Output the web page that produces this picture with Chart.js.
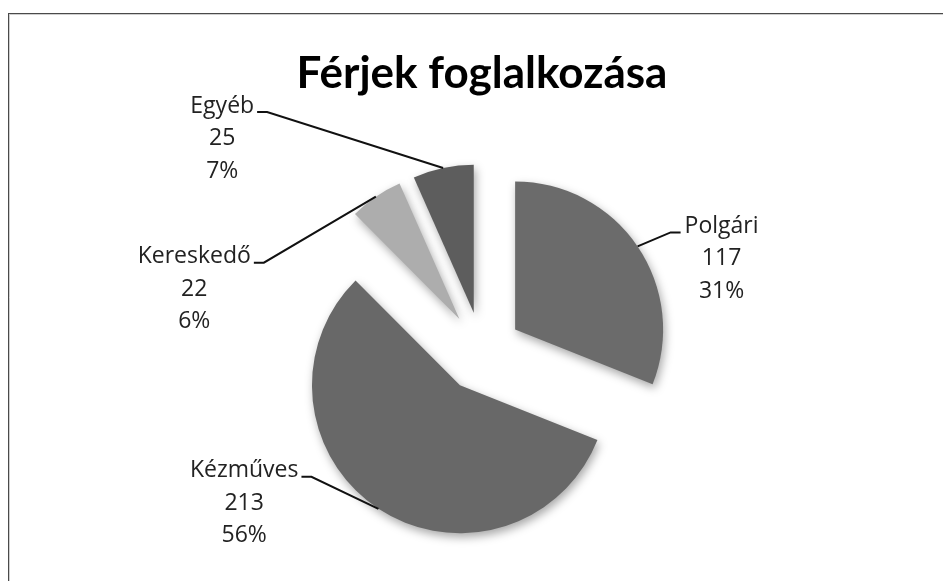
<!DOCTYPE html>
<html>
<head>
<meta charset="utf-8">
<script src="https://cdn.jsdelivr.net/npm/chart.js@4.4.1/dist/chart.umd.min.js"></script>
<style>
  html, body { margin: 0; padding: 0; background: #fff; }
  canvas { display: block; }
</style>
</head>
<body>
<canvas id="c" width="943" height="581"></canvas>
<script>
// ---- data ----
const title = 'Férjek foglalkozása';
const categories = ['Polgári', 'Kézműves', 'Kereskedő', 'Egyéb'];
const values = [117, 213, 22, 25];

const total = values.reduce((a, b) => a + b, 0);
const EXPLODE = 40; // px each slice is pulled out from the centre

// ---- styles ----
const baseColors = ['#6b6b6b', '#686868', '#adadad', '#5d5d5d'];
const edgeColors = ['#8e8e8e', '#8a8a8a', '#d4d4d4', '#7c7c7c'];
const darkEdge   = ['#4e4e4e', '#4c4c4c', '#8a8a8a', '#444444'];
// label elbow offsets relative to the slice edge anchor, and side of text
const labelLayout = [
  { dx: 33,   dy: -14, side: 'right' },
  { dx: -67,  dy: -32, side: 'left' },
  { dx: -112, dy: 66,  side: 'left' },
  { dx: -176, dy: -56, side: 'left' }
];

function sliceFill(ctx) {
  const arc = ctx.element;
  const i = ctx.dataIndex;
  if (!arc || !isFinite(arc.x) || !arc.outerRadius) return baseColors[i];
  const c = ctx.chart.ctx;
  const g = c.createRadialGradient(arc.x, arc.y, 0, arc.x, arc.y, arc.outerRadius);
  g.addColorStop(0, baseColors[i]);
  g.addColorStop(0.9, baseColors[i]);
  g.addColorStop(0.955, edgeColors[i]);
  g.addColorStop(1, darkEdge[i]);
  return g;
}

const framePlugin = {
  id: 'frame',
  beforeDraw(chart) {
    const c = chart.ctx;
    c.save();
    c.fillStyle = '#fff';
    c.fillRect(0, 0, chart.width, chart.height);
    c.strokeStyle = '#4a4a4a';
    c.lineWidth = 1;
    c.strokeRect(8.5, 13.5, 2000, 2000);
    c.strokeStyle = '#cfcfcf';
    c.beginPath();
    c.moveTo(9, 14.5); c.lineTo(chart.width, 14.5);
    c.moveTo(9.5, 14); c.lineTo(9.5, chart.height);
    c.stroke();
    c.restore();
  }
};

// draw each arc element (library drawing) translated outward along its mid-angle
const explodePlugin = {
  id: 'explode',
  beforeDatasetDraw(chart, args) {
    const c = chart.ctx;
    const meta = args.meta;
    c.save();
    c.shadowColor = 'rgba(0,0,0,0.35)';
    c.shadowBlur = 10;
    c.shadowOffsetX = 2;
    c.shadowOffsetY = 4;
    meta.data.forEach((arc) => {
      const mid = (arc.startAngle + arc.endAngle) / 2;
      c.save();
      c.translate(Math.cos(mid) * EXPLODE, Math.sin(mid) * EXPLODE);
      arc.draw(c, chart.chartArea);
      c.restore();
    });
    c.restore();
    return false;
  }
};

const labelPlugin = {
  id: 'pieLabels',
  afterDatasetsDraw(chart) {
    const c = chart.ctx;
    const meta = chart.getDatasetMeta(0);
    const lineH = 32.5;
    c.save();
    c.font = '23px "Open Sans", Lato, sans-serif';
    c.fillStyle = '#222';
    c.strokeStyle = '#111';
    c.lineWidth = 2;
    meta.data.forEach((arc, i) => {
      const mid = (arc.startAngle + arc.endAngle) / 2;
      const r = arc.outerRadius + EXPLODE;
      const ax = arc.x + Math.cos(mid) * r;
      const ay = arc.y + Math.sin(mid) * r;
      const L = labelLayout[i];
      const ex = ax + L.dx, ey = ay + L.dy;
      const tick = L.side === 'right' ? 10 : -10;
      const tx = ex + tick;
      c.beginPath();
      c.moveTo(ax, ay);
      c.lineTo(ex, ey);
      c.lineTo(tx, ey);
      c.stroke();
      const lines = [
        categories[i],
        String(values[i]),
        Math.round(values[i] / total * 100) + '%'
      ];
      const w0 = c.measureText(lines[0]).width;
      const cx = L.side === 'right' ? tx + 4 + w0 / 2 : tx - 3 - w0 / 2;
      c.textAlign = 'center';
      c.textBaseline = 'middle';
      lines.forEach((t, k) => c.fillText(t, cx, ey - 6 + k * lineH));
    });
    c.restore();
  }
};

new Chart(document.getElementById('c'), {
  type: 'pie',
  data: {
    labels: categories,
    datasets: [{
      data: values,
      backgroundColor: sliceFill,
      borderWidth: 0,
      clip: false,
      offset: 0,
      hoverOffset: 0
    }]
  },
  options: {
    responsive: false,
    animation: false,
    radius: 148,
    layout: { padding: { left: 21, right: 0, top: 0, bottom: 0 } },
    plugins: {
      legend: { display: false },
      tooltip: { enabled: false },
      title: {
        display: true,
        text: title,
        color: '#000',
        font: { family: 'Lato, "Open Sans", sans-serif', size: 44, weight: 'bold', lineHeight: 1.2 },
        padding: { top: 47, bottom: 23 }
      }
    },
    events: []
  },
  plugins: [framePlugin, explodePlugin, labelPlugin]
});
</script>
</body>
</html>
